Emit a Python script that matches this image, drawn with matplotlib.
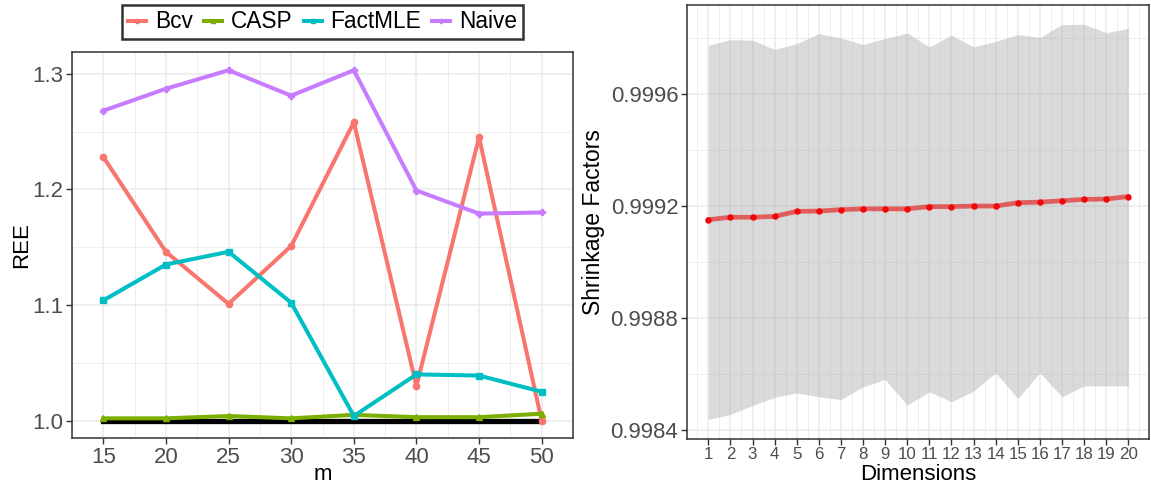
import numpy as np
import matplotlib
matplotlib.use("Agg")
import matplotlib.pyplot as plt
from matplotlib.lines import Line2D

plt.rcParams['font.family'] = ['Liberation Sans', 'DejaVu Sans']

# ---------------- left panel data ----------------
m_vals = [15, 20, 25, 30, 35, 40, 45, 50]
bcv = [1.228, 1.146, 1.101, 1.151, 1.258, 1.030, 1.245, 1.000]
casp = [1.002, 1.002, 1.004, 1.002, 1.005, 1.003, 1.003, 1.006]
factmle = [1.104, 1.135, 1.146, 1.102, 1.004, 1.040, 1.039, 1.025]
naive = [1.268, 1.287, 1.303, 1.281, 1.303, 1.199, 1.179, 1.180]
baseline = [1.0] * len(m_vals)

# ---------------- right panel data ----------------
dims = list(range(1, 21))
shrink = [0.999151, 0.999160, 0.999160, 0.999163, 0.999181, 0.999182, 0.999187,
          0.999190, 0.999190, 0.999190, 0.999198, 0.999198, 0.999200, 0.999200,
          0.999212, 0.999214, 0.999219, 0.999224, 0.999225, 0.999234]
upper = [0.999775, 0.999795, 0.999793, 0.999760, 0.999781, 0.999817, 0.999801,
         0.999778, 0.999799, 0.999819, 0.999769, 0.999811, 0.999769, 0.999789,
         0.999813, 0.999803, 0.999849, 0.999850, 0.999820, 0.999835]
lower = [0.998437, 0.998455, 0.998487, 0.998516, 0.998532, 0.998518, 0.998508,
         0.998554, 0.998580, 0.998488, 0.998536, 0.998500, 0.998538, 0.998604,
         0.998512, 0.998604, 0.998518, 0.998557, 0.998557, 0.998557]

GRID = '#EBEBEB'
TICK = '#4D4D4D'
BORDER = '#333333'


def theme_bw(ax):
    ax.set_axisbelow(True)
    ax.grid(True, which='major', color=GRID, linewidth=1.1)
    ax.grid(True, which='minor', color=GRID, linewidth=0.6)
    for s in ax.spines.values():
        s.set_color(BORDER)
        s.set_linewidth(1.1)
    ax.tick_params(which='major', color=BORDER, length=4, width=1.0,
                   labelcolor=TICK, pad=2.5)
    ax.tick_params(which='minor', length=0)


fig = plt.figure(figsize=(11.51, 4.87), dpi=100)

# ---------- left: REE vs m ----------
ax1 = fig.add_axes([72 / 1151, 1 - 438 / 487, 501 / 1151, (438 - 52.3) / 487])
theme_bw(ax1)
ax1.plot(m_vals, baseline, color='black', linewidth=3.8, zorder=2)
series = [('Bcv', bcv, '#F8766D', 'o'),
          ('CASP', casp, '#7CAE00', '^'),
          ('FactMLE', factmle, '#00BFC4', 's'),
          ('Naive', naive, '#C77CFF', 'P')]
handles = []
for name, vals, col, mk in series:
    ax1.plot(m_vals, vals, color=col, linewidth=2.9, marker=mk, markersize=4.5, zorder=3)
    handles.append(Line2D([], [], color=col, linewidth=2.9, marker=mk, markersize=3))
ax1.set_xlim(13.25, 51.75)
ax1.set_ylim(0.985, 1.3185)
ax1.set_xticks(m_vals)
ax1.set_xticks(np.arange(12.5, 53, 5), minor=True)
ax1.set_yticks([1.0, 1.1, 1.2, 1.3])
ax1.set_yticks([1.05, 1.15, 1.25], minor=True)
ax1.set_yticklabels(['1.0', '1.1', '1.2', '1.3'])
ax1.tick_params(axis='both', labelsize=16)
ax1.set_xlabel('m', fontsize=16)
ax1.xaxis.label.set_va('baseline')
ax1.xaxis.set_label_coords(0.5, (438 - 480) / (438 - 52.3))
ax1.set_ylabel('REE', fontsize=16)
ax1.yaxis.set_label_coords(-0.079, 0.5)

leg = fig.legend(handles, [s[0] for s in series], loc='center', ncol=4,
                 bbox_to_anchor=(322.5 / 1151, 1 - 22 / 487), fontsize=16.3,
                 frameon=True, fancybox=False, edgecolor='black',
                 handlelength=0.8, handletextpad=0.38, columnspacing=0.5,
                 borderpad=0.25, borderaxespad=0)
leg.get_frame().set_linewidth(1.8)

# ---------- right: shrinkage factors ----------
ax2 = fig.add_axes([687.3 / 1151, 1 - 439 / 487, (1149.3 - 687.3) / 1151, (439 - 4.7) / 487])
theme_bw(ax2)
ax2.fill_between(dims, lower, upper, color='#A8A8A8', alpha=0.42, linewidth=0, zorder=1)
ax2.plot(dims, shrink, color='red', linestyle='none', marker='o', markersize=3.6, zorder=3)
ax2.plot(dims, shrink, color='#E60C0C', alpha=0.6, linewidth=3.4, zorder=4)
ax2.set_xlim(0.05, 20.95)
ax2.set_ylim(0.998367, 0.999920)
ax2.set_xticks(dims)
ax2.set_xticks(np.arange(0.5, 21, 1), minor=True)
ax2.set_yticks([0.9984, 0.9988, 0.9992, 0.9996])
ax2.set_yticks([0.9986, 0.9990, 0.9994, 0.9998], minor=True)
ax2.set_yticklabels(['0.9984', '0.9988', '0.9992', '0.9996'])
ax2.tick_params(axis='y', labelsize=16)
ax2.tick_params(axis='x', labelsize=12.2, pad=2)
ax2.set_xlabel('Dimensions', fontsize=16)
ax2.xaxis.label.set_va('baseline')
ax2.xaxis.set_label_coords(0.5, (439 - 480) / (439 - 4.7))
ax2.set_ylabel('Shrinkage Factors', fontsize=16.5)
ax2.yaxis.set_label_coords(-0.1786, 0.5)

fig.savefig('out.png', dpi=100)
